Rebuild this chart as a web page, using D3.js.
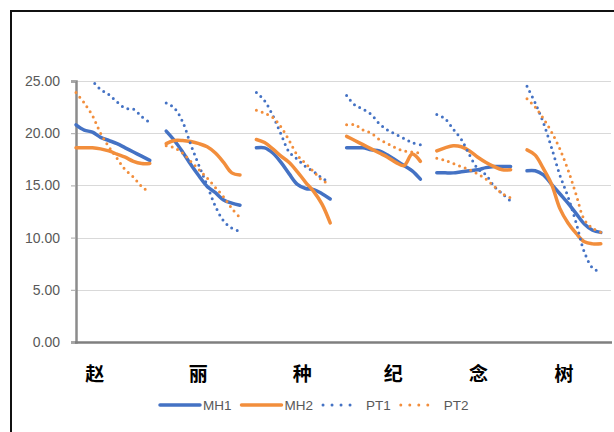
<!DOCTYPE html>
<html><head><meta charset="utf-8">
<script src="https://cdn.jsdelivr.net/npm/d3@7/dist/d3.min.js"></script>
<style>
html,body{margin:0;padding:0;background:#fff;}
svg{display:block;}
</style>
</head><body>
<svg id="chart" width="614" height="432"></svg>
<script>
// ---------------- data ----------------
const categories = ["赵", "丽", "种", "纪", "念", "树"];
// category label anchor (slot index along the x axis)
const labelSlots = [2.3, 14.9, 27.6, 38.7, 49.1, 59.5];
const pointsPerGroup = 10;
const seriesNames = ["MH1", "MH2", "PT1", "PT2"];

const MH1 = [
  [20.8, 20.3, 20.1, 19.6, 19.3, 19.0, 18.6, 18.2, 17.8, 17.4],
  [20.2, 19.3, 18.2, 17.0, 15.9, 14.9, 14.3, 13.6, 13.3, 13.1],
  [18.6, 18.6, 18.1, 17.2, 16.1, 15.1, 14.7, 14.6, 14.2, 13.7],
  [18.6, 18.6, 18.6, 18.4, 18.3, 17.9, 17.4, 16.9, 16.4, 15.6],
  [16.2, 16.2, 16.2, 16.3, 16.4, 16.5, 16.7, 16.8, 16.8, 16.8],
  [16.4, 16.4, 16.0, 15.1, 14.2, 13.3, 12.3, 11.3, 10.7, 10.5]
];
const MH2 = [
  [18.6, 18.6, 18.6, 18.5, 18.3, 18.0, 17.7, 17.3, 17.1, 17.1],
  [19.0, 19.3, 19.3, 19.2, 19.0, 18.7, 18.1, 17.2, 16.2, 16.0],
  [19.4, 19.1, 18.5, 17.8, 17.2, 16.3, 15.3, 14.4, 13.2, 11.4],
  [19.7, 19.3, 18.9, 18.5, 18.1, 17.7, 17.2, 16.9, 18.0, 17.3],
  [18.3, 18.6, 18.8, 18.7, 18.3, 17.7, 17.2, 16.8, 16.5, 16.5],
  [18.4, 17.9, 16.6, 15.1, 12.8, 11.4, 10.4, 9.6, 9.4, 9.4]
];
const PT1 = [
  [27.0, 25.9, 25.0, 24.2, 23.7, 23.0, 22.4, 22.3, 21.6, 21.0],
  [22.9, 22.4, 21.1, 18.9, 16.9, 15.0, 13.0, 11.6, 10.9, 10.6],
  [23.9, 23.1, 21.7, 19.9, 18.2, 17.5, 16.8, 16.3, 15.7, 15.3],
  [23.6, 22.7, 22.3, 21.8, 20.9, 20.3, 19.9, 19.5, 19.1, 18.9],
  [21.8, 21.4, 20.4, 19.4, 17.9, 16.6, 16.0, 14.9, 14.2, 13.5],
  [24.5, 22.9, 21.0, 18.6, 16.0, 13.9, 11.4, 8.6, 7.1, 6.7]
];
const PT2 = [
  [23.9, 22.9, 21.7, 20.0, 18.7, 17.6, 16.5, 15.8, 14.9, 14.3],
  [18.8, 18.6, 18.1, 17.3, 16.5, 15.7, 14.8, 13.9, 12.8, 11.9],
  [22.2, 21.9, 21.5, 20.6, 19.3, 17.9, 17.1, 16.3, 15.5, 15.1],
  [20.8, 20.8, 20.3, 20.0, 19.4, 19.0, 18.6, 18.3, 18.2, 18.1],
  [17.6, 17.4, 17.1, 16.8, 16.5, 16.1, 15.6, 14.9, 14.2, 13.8],
  [23.3, 22.5, 21.4, 20.1, 18.5, 16.5, 14.1, 11.7, 10.9, 10.5]
];
const yTicks = [0, 5, 10, 15, 20, 25];

// ---------------- styles ----------------
const BLUE = "#4472C4", ORANGE = "#F28E3C";
const seriesStyle = {
  MH1: {color: BLUE, dotted: false},
  MH2: {color: ORANGE, dotted: false},
  PT1: {color: BLUE, dotted: true},
  PT2: {color: ORANGE, dotted: true}
};
const seriesData = {MH1, MH2, PT1, PT2};

// ---------------- layout ----------------
const svg = d3.select("#chart");
const plot = {left: 76, right: 609, top: 81, bottom: 342};
const slotCount = categories.length * (pointsPerGroup + 1);

const x = d3.scaleLinear().domain([0, slotCount - 1]).range([plot.left, plot.right]);
const y = d3.scaleLinear().domain([0, 25]).range([plot.bottom, plot.top]);

// outer frame
svg.append("rect").attr("x", 11).attr("y", 11).attr("width", 700).attr("height", 500)
  .attr("fill", "none").attr("stroke", "#111").attr("stroke-width", 2);

// gridlines
svg.append("g").selectAll("line").data(yTicks.filter(d => d > 0)).join("line")
  .attr("x1", plot.left).attr("x2", plot.right + 2)
  .attr("y1", d => Math.round(y(d)) + 0.5).attr("y2", d => Math.round(y(d)) + 0.5)
  .attr("stroke", "#D9D9D9").attr("stroke-width", 1);

// y axis
const yAxis = d3.axisLeft(y).tickValues(yTicks).tickFormat(d3.format(".2f")).tickSize(5).tickPadding(11);
const gy = svg.append("g").attr("transform", `translate(${plot.left},0)`).call(yAxis);
gy.select(".domain").attr("stroke", "#8C8C8C").attr("stroke-width", 2.5);
gy.selectAll(".tick line").attr("stroke", "#A6A6A6").attr("stroke-width", 1);
gy.selectAll(".tick text").attr("fill", "#595959")
  .style("font-family", "'Liberation Sans', Arial, sans-serif").style("font-size", "14px");

// x axis line
svg.append("line").attr("x1", plot.left - 1).attr("x2", plot.right + 3)
  .attr("y1", plot.bottom + 0.5).attr("y2", plot.bottom + 0.5)
  .attr("stroke", "#7F7F7F").attr("stroke-width", 2.5);

// clip
svg.append("defs").append("clipPath").attr("id", "clip").append("rect")
  .attr("x", plot.left - 4).attr("y", plot.top).attr("width", plot.right - plot.left + 8)
  .attr("height", plot.bottom - plot.top);

const line = d3.line()
  .x(d => x(d.slot)).y(d => y(d.value))
  .curve(d3.curveCatmullRom.alpha(0.5));

const gLines = svg.append("g").attr("clip-path", "url(#clip)");
seriesNames.forEach(name => {
  const st = seriesStyle[name];
  seriesData[name].forEach((grp, gi) => {
    const pts = grp.map((v, i) => ({slot: gi * (pointsPerGroup + 1) + i, value: v}));
    const p = gLines.append("path").datum(pts).attr("d", line)
      .attr("fill", "none").attr("stroke", st.color)
      .attr("stroke-linecap", "round").attr("stroke-linejoin", "round");
    if (st.dotted) p.attr("stroke-width", 3).attr("stroke-dasharray", "0 6");
    else p.attr("stroke-width", 3.5);
  });
});

// category labels
svg.append("g").selectAll("text").data(categories).join("text")
  .attr("x", (d, i) => x(labelSlots[i])).attr("y", 381)
  .attr("text-anchor", "middle")
  .style("font-family", "'Noto Sans CJK SC', sans-serif").style("font-weight", "bold")
  .style("font-size", "19px").attr("fill", "#000")
  .text(d => d);

// legend
const leg = svg.append("g").attr("transform", "translate(158,405)");
let lx = 0;
seriesNames.forEach(name => {
  const st = seriesStyle[name];
  const item = leg.append("g").attr("transform", `translate(${lx},0)`);
  const l = item.append("line").attr("x1", 2).attr("x2", st.dotted ? 38 : 42).attr("y1", 0).attr("y2", 0)
    .attr("stroke", st.color).attr("stroke-linecap", "round");
  if (st.dotted) l.attr("stroke-width", 3).attr("stroke-dasharray", "0 9");
  else l.attr("stroke-width", 3.5);
  const t = item.append("text").attr("x", 45).attr("y", 5)
    .style("font-family", "'Liberation Sans', Arial, sans-serif").style("font-size", "13.5px")
    .attr("fill", "#595959").text(name);
  lx += 45 + t.node().getComputedTextLength() + 8;
});
</script>
</body></html>
